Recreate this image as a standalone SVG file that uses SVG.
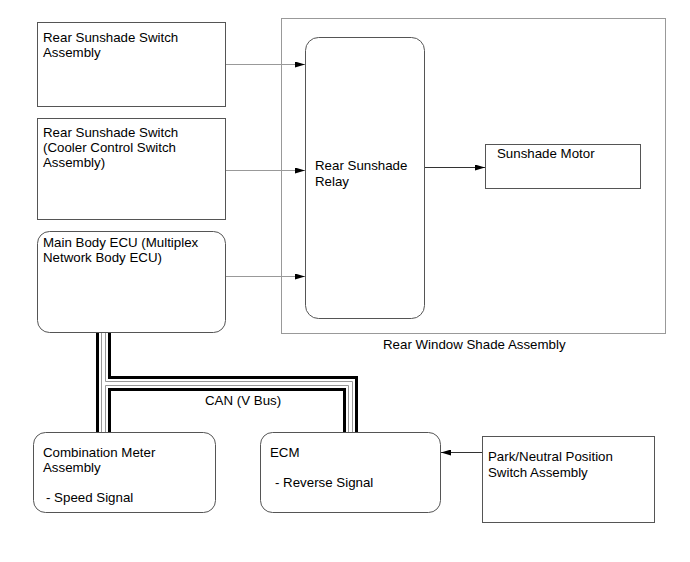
<svg xmlns="http://www.w3.org/2000/svg" width="690" height="562" viewBox="0 0 690 562">
<defs>
<style>
text{font-family:"Liberation Sans",Arial,sans-serif;font-size:13.3px;fill:#000}
.box{fill:#fff;stroke:#555;stroke-width:1}
.outer{fill:#fff;stroke:#999;stroke-width:1}
.conn{fill:none;stroke:#999;stroke-width:1}
.conn2{fill:none;stroke:#333;stroke-width:1}
.bk{fill:none;stroke:#000;stroke-width:3}
.gy{fill:none;stroke:#999;stroke-width:1}
</style>
<marker id="ah" markerWidth="10" markerHeight="6" refX="10" refY="3" orient="auto" markerUnits="userSpaceOnUse">
<path d="M0,0 L10,3 L0,6 Z" fill="#000"/>
</marker>
</defs>
<rect width="690" height="562" fill="#fff"/>

<g id="rear-window-shade-assembly">
<rect class="outer" x="281.5" y="18.5" width="384" height="315"/>
<text x="383" y="349">Rear Window Shade Assembly</text>
</g>

<g id="rear-sunshade-switch-assembly">
<rect class="box" x="37.5" y="22.5" width="188" height="84"/>
<text x="43" y="42">Rear Sunshade Switch</text>
<text x="43" y="57">Assembly</text>
</g>

<g id="rear-sunshade-switch-cooler">
<rect class="box" x="37.5" y="118.5" width="188" height="101"/>
<text x="43" y="137">Rear Sunshade Switch</text>
<text x="43" y="152">(Cooler Control Switch</text>
<text x="43" y="167">Assembly)</text>
</g>

<g id="main-body-ecu">
<rect class="box" x="37.5" y="231.5" width="188" height="101" rx="12"/>
<text x="43" y="247">Main Body ECU (Multiplex</text>
<text x="43" y="262">Network Body ECU)</text>
</g>

<g id="rear-sunshade-relay">
<rect class="box" x="305.5" y="37.5" width="119" height="281" rx="13"/>
<text x="315" y="170">Rear Sunshade</text>
<text x="315" y="186">Relay</text>
</g>

<g id="sunshade-motor">
<rect class="box" x="485.5" y="144.5" width="155" height="44"/>
<text x="497" y="158">Sunshade Motor</text>
</g>

<g id="combination-meter">
<rect class="box" x="33.5" y="432.5" width="182" height="80" rx="12"/>
<text x="43" y="457">Combination Meter</text>
<text x="43" y="472">Assembly</text>
<text x="46" y="502">- Speed Signal</text>
</g>

<g id="ecm">
<rect class="box" x="260.5" y="432.5" width="180" height="80" rx="12"/>
<text x="270" y="457">ECM</text>
<text x="275" y="487">- Reverse Signal</text>
</g>

<g id="park-neutral-switch">
<rect class="box" x="482.5" y="436.5" width="172" height="86"/>
<text x="488" y="461">Park/Neutral Position</text>
<text x="488" y="477">Switch Assembly</text>
</g>

<g id="connectors">
<line class="conn" x1="226" y1="64.5" x2="305" y2="64.5" marker-end="url(#ah)"/>
<line class="conn" x1="226" y1="170.5" x2="305" y2="170.5" marker-end="url(#ah)"/>
<line class="conn" x1="226" y1="276.5" x2="305" y2="276.5" marker-end="url(#ah)"/>
<line class="conn2" x1="425" y1="167.5" x2="485" y2="167.5" marker-end="url(#ah)"/>
<line class="conn2" x1="482" y1="452.5" x2="441" y2="452.5" marker-end="url(#ah)"/>
<g id="can-bus">
<line class="bk" x1="97.5" y1="333" x2="97.5" y2="432"/>
<line class="gy" x1="101.5" y1="333" x2="101.5" y2="432"/>
<polyline class="gy" points="105.5,333 105.5,381.5 352.5,381.5 352.5,432"/>
<polyline class="gy" points="105.5,432 105.5,385.5 348.5,385.5 348.5,432"/>
<polyline class="bk" points="109.5,333 109.5,377.5 356.5,377.5 356.5,432"/>
<polyline class="bk" points="109.5,432 109.5,389.5 344.5,389.5 344.5,432"/>
</g>
<text x="205" y="405">CAN (V Bus)</text>
</g>
</svg>
